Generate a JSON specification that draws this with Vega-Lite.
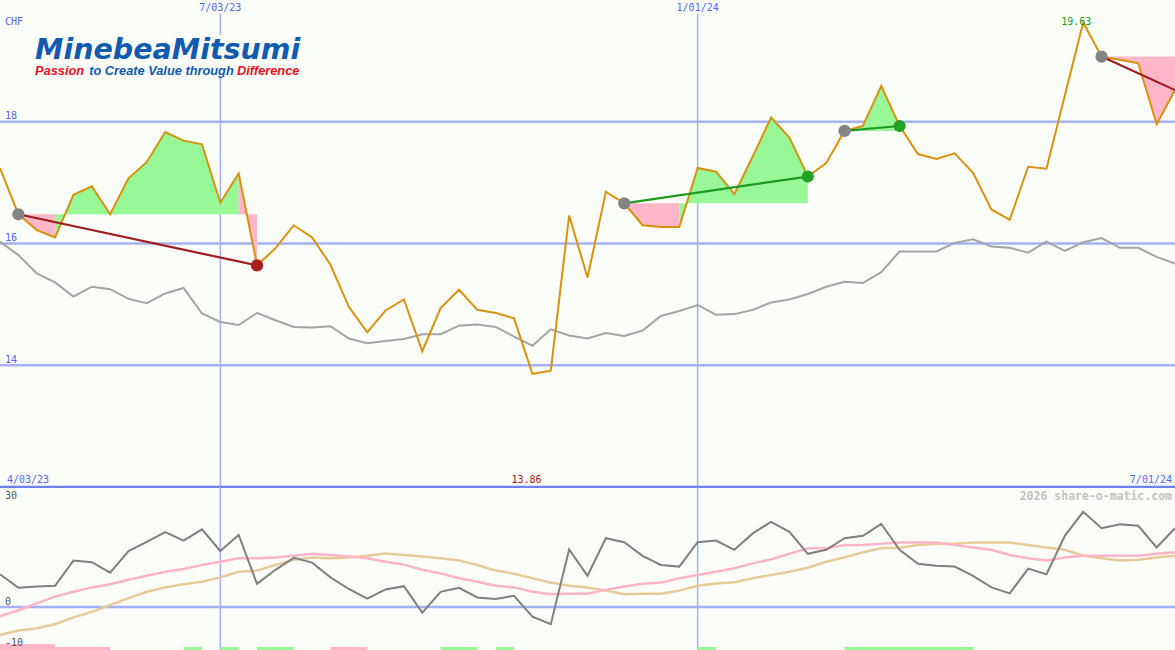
{
  "$schema": "https://vega.github.io/schema/vega-lite/v6.json",
  "background": "#fbfdf9",
  "padding": 0,
  "spacing": 0,
  "config": {"view": {"stroke": null}, "axis": {"disable": true}, "legend": {"disable": true}, "concat": {"spacing": 0}},
  "resolve": {"scale": {"x": "independent", "y": "independent", "color": "independent"}},
  "datasets": {
    "weekly": [
      {"date":"2023-04-10","price":17.24,"ref":16.03,"osc":8.2,"ma1":-2.3,"ma2":-7.0},
      {"date":"2023-04-17","price":16.48,"ref":15.81,"osc":4.8,"ma1":-0.8,"ma2":-5.9},
      {"date":"2023-04-24","price":16.22,"ref":15.51,"osc":5.1,"ma1":0.9,"ma2":-5.3},
      {"date":"2023-05-01","price":16.10,"ref":15.36,"osc":5.3,"ma1":2.6,"ma2":-4.3},
      {"date":"2023-05-08","price":16.80,"ref":15.13,"osc":11.6,"ma1":3.8,"ma2":-2.6},
      {"date":"2023-05-15","price":16.94,"ref":15.29,"osc":11.2,"ma1":4.9,"ma2":-1.2},
      {"date":"2023-05-22","price":16.48,"ref":15.25,"osc":8.6,"ma1":5.7,"ma2":0.5},
      {"date":"2023-05-29","price":17.07,"ref":15.09,"osc":14.0,"ma1":6.8,"ma2":2.2},
      {"date":"2023-06-05","price":17.34,"ref":15.02,"osc":16.3,"ma1":7.8,"ma2":3.8},
      {"date":"2023-06-12","price":17.83,"ref":15.18,"osc":18.7,"ma1":8.8,"ma2":4.9},
      {"date":"2023-06-19","price":17.69,"ref":15.27,"osc":16.6,"ma1":9.5,"ma2":5.7},
      {"date":"2023-06-26","price":17.63,"ref":14.85,"osc":19.4,"ma1":10.5,"ma2":6.3},
      {"date":"2023-07-03","price":16.67,"ref":14.71,"osc":14.0,"ma1":11.3,"ma2":7.4},
      {"date":"2023-07-10","price":17.15,"ref":14.66,"osc":18.0,"ma1":12.2,"ma2":8.8},
      {"date":"2023-07-17","price":15.64,"ref":14.86,"osc":5.8,"ma1":12.2,"ma2":9.1},
      {"date":"2023-07-24","price":15.92,"ref":14.74,"osc":9.3,"ma1":12.4,"ma2":10.5},
      {"date":"2023-07-31","price":16.30,"ref":14.63,"osc":12.3,"ma1":12.8,"ma2":11.8},
      {"date":"2023-08-07","price":16.10,"ref":14.62,"osc":11.1,"ma1":13.3,"ma2":12.4},
      {"date":"2023-08-14","price":15.65,"ref":14.64,"osc":7.4,"ma1":13.0,"ma2":12.2},
      {"date":"2023-08-21","price":14.96,"ref":14.44,"osc":4.5,"ma1":12.6,"ma2":12.4},
      {"date":"2023-08-28","price":14.54,"ref":14.36,"osc":2.1,"ma1":12.2,"ma2":12.8},
      {"date":"2023-09-04","price":14.90,"ref":14.40,"osc":4.4,"ma1":11.3,"ma2":13.4},
      {"date":"2023-09-11","price":15.08,"ref":14.43,"osc":5.2,"ma1":10.6,"ma2":13.0},
      {"date":"2023-09-18","price":14.23,"ref":14.51,"osc":-1.4,"ma1":9.3,"ma2":12.6},
      {"date":"2023-09-25","price":14.94,"ref":14.51,"osc":3.8,"ma1":8.4,"ma2":12.2},
      {"date":"2023-10-02","price":15.24,"ref":14.65,"osc":4.8,"ma1":7.2,"ma2":11.6},
      {"date":"2023-10-09","price":14.91,"ref":14.67,"osc":2.4,"ma1":6.3,"ma2":10.5},
      {"date":"2023-10-16","price":14.86,"ref":14.63,"osc":2.0,"ma1":5.3,"ma2":9.1},
      {"date":"2023-10-23","price":14.77,"ref":14.47,"osc":2.8,"ma1":4.9,"ma2":8.3},
      {"date":"2023-10-30","price":13.86,"ref":14.32,"osc":-2.4,"ma1":3.8,"ma2":7.2},
      {"date":"2023-11-06","price":13.91,"ref":14.59,"osc":-4.3,"ma1":3.2,"ma2":6.1},
      {"date":"2023-11-13","price":16.46,"ref":14.49,"osc":14.4,"ma1":3.3,"ma2":5.3},
      {"date":"2023-11-20","price":15.44,"ref":14.44,"osc":7.8,"ma1":3.3,"ma2":4.9},
      {"date":"2023-11-27","price":16.85,"ref":14.53,"osc":17.2,"ma1":4.3,"ma2":4.1},
      {"date":"2023-12-04","price":16.66,"ref":14.48,"osc":16.2,"ma1":5.1,"ma2":3.2},
      {"date":"2023-12-11","price":16.30,"ref":14.57,"osc":12.8,"ma1":5.8,"ma2":3.3},
      {"date":"2023-12-18","price":16.27,"ref":14.81,"osc":10.5,"ma1":6.1,"ma2":3.3},
      {"date":"2023-12-25","price":16.27,"ref":14.89,"osc":10.1,"ma1":7.2,"ma2":4.1},
      {"date":"2024-01-01","price":17.24,"ref":14.99,"osc":16.2,"ma1":8.0,"ma2":5.3},
      {"date":"2024-01-08","price":17.18,"ref":14.83,"osc":16.6,"ma1":8.8,"ma2":5.9},
      {"date":"2024-01-15","price":16.81,"ref":14.84,"osc":14.3,"ma1":9.7,"ma2":6.2},
      {"date":"2024-01-22","price":17.43,"ref":14.91,"osc":18.4,"ma1":10.9,"ma2":7.2},
      {"date":"2024-01-29","price":18.07,"ref":15.03,"osc":21.3,"ma1":11.9,"ma2":8.0},
      {"date":"2024-02-05","price":17.74,"ref":15.08,"osc":18.8,"ma1":13.3,"ma2":8.8},
      {"date":"2024-02-12","price":17.10,"ref":15.17,"osc":13.3,"ma1":14.7,"ma2":9.8},
      {"date":"2024-02-19","price":17.32,"ref":15.29,"osc":14.3,"ma1":14.7,"ma2":11.3},
      {"date":"2024-02-26","price":17.85,"ref":15.37,"osc":17.2,"ma1":15.5,"ma2":12.4},
      {"date":"2024-03-04","price":17.93,"ref":15.35,"osc":17.8,"ma1":15.5,"ma2":13.7},
      {"date":"2024-03-11","price":18.59,"ref":15.53,"osc":20.8,"ma1":15.8,"ma2":14.7},
      {"date":"2024-03-18","price":17.93,"ref":15.87,"osc":14.3,"ma1":16.1,"ma2":14.8},
      {"date":"2024-03-25","price":17.47,"ref":15.87,"osc":10.8,"ma1":16.1,"ma2":15.5},
      {"date":"2024-04-01","price":17.39,"ref":15.87,"osc":10.3,"ma1":16.1,"ma2":15.8},
      {"date":"2024-04-08","price":17.48,"ref":16.01,"osc":10.1,"ma1":15.5,"ma2":15.8},
      {"date":"2024-04-15","price":17.16,"ref":16.07,"osc":7.8,"ma1":14.9,"ma2":16.1},
      {"date":"2024-04-22","price":16.56,"ref":15.95,"osc":4.9,"ma1":14.3,"ma2":16.1},
      {"date":"2024-04-29","price":16.39,"ref":15.93,"osc":3.4,"ma1":13.0,"ma2":16.1},
      {"date":"2024-05-06","price":17.26,"ref":15.85,"osc":9.6,"ma1":12.2,"ma2":15.5},
      {"date":"2024-05-13","price":17.23,"ref":16.03,"osc":8.2,"ma1":11.6,"ma2":14.9},
      {"date":"2024-05-20","price":18.43,"ref":15.88,"osc":17.8,"ma1":12.4,"ma2":14.3},
      {"date":"2024-05-27","price":19.63,"ref":16.02,"osc":23.8,"ma1":12.8,"ma2":12.8},
      {"date":"2024-06-03","price":19.07,"ref":16.09,"osc":19.7,"ma1":12.8,"ma2":12.2},
      {"date":"2024-06-10","price":19.02,"ref":15.93,"osc":20.7,"ma1":12.8,"ma2":11.6},
      {"date":"2024-06-17","price":18.96,"ref":15.93,"osc":20.3,"ma1":12.8,"ma2":11.8},
      {"date":"2024-06-24","price":17.96,"ref":15.78,"osc":14.9,"ma1":13.3,"ma2":12.4},
      {"date":"2024-07-01","price":18.52,"ref":15.67,"osc":19.7,"ma1":13.7,"ma2":12.8}
    ],
    "fills": [
      {"date":"2023-04-17","price":16.48,"base":16.48,"grp":"a","sign":"down"},
      {"date":"2023-04-24","price":16.22,"base":16.48,"grp":"a","sign":"down"},
      {"date":"2023-05-01","price":16.10,"base":16.48,"grp":"a","sign":"down"},
      {"date":"2023-05-01","price":16.10,"base":16.48,"grp":"b","sign":"up"},
      {"date":"2023-05-08","price":16.80,"base":16.48,"grp":"b","sign":"up"},
      {"date":"2023-05-15","price":16.94,"base":16.48,"grp":"b","sign":"up"},
      {"date":"2023-05-22","price":16.48,"base":16.48,"grp":"b","sign":"up"},
      {"date":"2023-05-29","price":17.07,"base":16.48,"grp":"b","sign":"up"},
      {"date":"2023-06-05","price":17.34,"base":16.48,"grp":"b","sign":"up"},
      {"date":"2023-06-12","price":17.83,"base":16.48,"grp":"b","sign":"up"},
      {"date":"2023-06-19","price":17.69,"base":16.48,"grp":"b","sign":"up"},
      {"date":"2023-06-26","price":17.63,"base":16.48,"grp":"b","sign":"up"},
      {"date":"2023-07-03","price":16.67,"base":16.48,"grp":"b","sign":"up"},
      {"date":"2023-07-10","price":17.15,"base":16.48,"grp":"b","sign":"up"},
      {"date":"2023-07-10","price":17.15,"base":16.48,"grp":"c","sign":"down"},
      {"date":"2023-07-17","price":15.64,"base":16.48,"grp":"c","sign":"down"},
      {"date":"2023-12-04","price":16.66,"base":16.66,"grp":"d","sign":"down"},
      {"date":"2023-12-11","price":16.30,"base":16.66,"grp":"d","sign":"down"},
      {"date":"2023-12-18","price":16.27,"base":16.66,"grp":"d","sign":"down"},
      {"date":"2023-12-25","price":16.27,"base":16.66,"grp":"d","sign":"down"},
      {"date":"2023-12-25","price":16.27,"base":16.66,"grp":"e","sign":"up"},
      {"date":"2024-01-01","price":17.24,"base":16.66,"grp":"e","sign":"up"},
      {"date":"2024-01-08","price":17.18,"base":16.66,"grp":"e","sign":"up"},
      {"date":"2024-01-15","price":16.81,"base":16.66,"grp":"e","sign":"up"},
      {"date":"2024-01-22","price":17.43,"base":16.66,"grp":"e","sign":"up"},
      {"date":"2024-01-29","price":18.07,"base":16.66,"grp":"e","sign":"up"},
      {"date":"2024-02-05","price":17.74,"base":16.66,"grp":"e","sign":"up"},
      {"date":"2024-02-12","price":17.10,"base":16.66,"grp":"e","sign":"up"},
      {"date":"2024-02-26","price":17.85,"base":17.85,"grp":"f","sign":"up"},
      {"date":"2024-03-04","price":17.93,"base":17.85,"grp":"f","sign":"up"},
      {"date":"2024-03-11","price":18.59,"base":17.85,"grp":"f","sign":"up"},
      {"date":"2024-03-18","price":17.93,"base":17.85,"grp":"f","sign":"up"},
      {"date":"2024-06-03","price":19.07,"base":19.07,"grp":"g","sign":"down"},
      {"date":"2024-06-10","price":19.02,"base":19.07,"grp":"g","sign":"down"},
      {"date":"2024-06-17","price":18.96,"base":19.07,"grp":"g","sign":"down"},
      {"date":"2024-06-24","price":17.96,"base":19.07,"grp":"g","sign":"down"},
      {"date":"2024-07-01","price":18.52,"base":19.07,"grp":"g","sign":"down"}
    ],
    "trends": [
      {"date":"2023-04-17","value":16.48,"seg":1,"sign":"down"},
      {"date":"2023-07-17","value":15.64,"seg":1,"sign":"down"},
      {"date":"2023-12-04","value":16.66,"seg":2,"sign":"up"},
      {"date":"2024-02-12","value":17.10,"seg":2,"sign":"up"},
      {"date":"2024-02-26","value":17.85,"seg":3,"sign":"up"},
      {"date":"2024-03-18","value":17.93,"seg":3,"sign":"up"},
      {"date":"2024-06-03","value":19.07,"seg":4,"sign":"down"},
      {"date":"2024-07-01","value":18.52,"seg":4,"sign":"down"}
    ],
    "dots": [
      {"date":"2023-04-17","value":16.48,"kind":"start"},
      {"date":"2023-07-17","value":15.64,"kind":"down"},
      {"date":"2023-12-04","value":16.66,"kind":"start"},
      {"date":"2024-02-12","value":17.10,"kind":"up"},
      {"date":"2024-02-26","value":17.85,"kind":"start"},
      {"date":"2024-03-18","value":17.93,"kind":"up"},
      {"date":"2024-06-03","value":19.07,"kind":"start"}
    ],
    "bars": [
      {"start":"2023-04-10","end":"2023-05-01","top":-9.25,"sign":"down"},
      {"start":"2023-05-01","end":"2023-05-22","top":-10.0,"sign":"down"},
      {"start":"2023-06-19","end":"2023-06-26","top":-10.0,"sign":"up"},
      {"start":"2023-07-03","end":"2023-07-10","top":-10.0,"sign":"up"},
      {"start":"2023-07-17","end":"2023-07-31","top":-10.0,"sign":"up"},
      {"start":"2023-08-14","end":"2023-08-28","top":-10.0,"sign":"down"},
      {"start":"2023-09-25","end":"2023-10-09","top":-10.0,"sign":"up"},
      {"start":"2023-10-16","end":"2023-10-23","top":-10.0,"sign":"up"},
      {"start":"2024-01-01","end":"2024-01-08","top":-10.0,"sign":"up"},
      {"start":"2024-02-26","end":"2024-04-15","top":-10.0,"sign":"up"}
    ],
    "vlines": [{"date":"2023-07-03"},{"date":"2024-01-01"}],
    "gridTop": [{"level":14},{"level":16},{"level":18}],
    "logoBox": [{"start":"2023-04-21","end":"2023-08-08","low":18.72,"high":19.43}],
    "notes": [
      {"date":"2023-04-10","value":19.59,"text":"CHF","role":"axisTop"},
      {"date":"2023-04-10","value":18.04,"text":"18","role":"axisTop"},
      {"date":"2023-04-10","value":16.04,"text":"16","role":"axisTop"},
      {"date":"2023-04-10","value":14.04,"text":"14","role":"axisTop"},
      {"date":"2023-07-03","value":19.82,"text":"7/03/23","role":"dateTop"},
      {"date":"2024-01-01","value":19.82,"text":"1/01/24","role":"dateTop"},
      {"date":"2023-04-10","value":12.07,"text":"4/03/23","role":"dateLeft"},
      {"date":"2024-07-01","value":12.07,"text":"7/01/24","role":"dateRight"},
      {"date":"2023-10-30","value":12.07,"text":"13.86","role":"min"},
      {"date":"2024-05-27","value":19.59,"text":"19.63","role":"max"},
      {"date":"2023-04-23","value":19.03,"text":"MinebeaMitsumi","role":"logo"},
      {"date":"2023-04-23","value":18.76,"text":"Passion","role":"tagRed"},
      {"date":"2023-05-14","value":18.76,"text":"to Create Value through","role":"tagBlue"},
      {"date":"2023-07-09","value":18.76,"text":"Difference","role":"tagRed"},
      {"date":"2023-04-10","value":26.9,"text":"30","role":"axisLow"},
      {"date":"2023-04-10","value":0.5,"text":"0","role":"axisLow"},
      {"date":"2023-04-10","value":-9.75,"text":"-10","role":"axisLow"},
      {"date":"2024-07-01","value":26.75,"text":"2026 share-o-matic.com","role":"credit"}
    ]
  },
  "vconcat": [
    {
      "width": 1175,
      "height": 487,
      "layer": [
        {"data": {"name": "gridTop"}, "mark": {"type": "rule", "color": "#a4b2f2", "strokeWidth": 2.5, "clip": true},
         "encoding": {"y": {"field": "level", "type": "quantitative", "scale": {"domain": [12, 20], "nice": false, "zero": false}}}},
        {"data": {"name": "vlines"}, "mark": {"type": "rule", "color": "#a4b2f2", "strokeWidth": 1.5, "clip": true},
         "encoding": {"x": {"field": "date", "type": "temporal", "scale": {"type": "utc", "domain": [1681084800000, 1719792000000], "nice": false}},
                      "y": {"datum": 12, "type": "quantitative", "scale": {"domain": [12, 20], "nice": false, "zero": false}}, "y2": {"datum": 19.78}}},
        {"data": {"name": "logoBox"}, "mark": {"type": "rect", "color": "#fbfdf9", "opacity": 1},
         "encoding": {"x": {"field": "start", "type": "temporal", "scale": {"type": "utc", "domain": [1681084800000, 1719792000000], "nice": false}},
                      "x2": {"field": "end"},
                      "y": {"field": "low", "type": "quantitative", "scale": {"domain": [12, 20], "nice": false, "zero": false}},
                      "y2": {"field": "high"}}},
        {"data": {"values": [{"level": 12}]}, "mark": {"type": "rule", "color": "#7080f0", "strokeWidth": 2.5, "clip": true},
         "encoding": {"y": {"field": "level", "type": "quantitative", "scale": {"domain": [12, 20], "nice": false, "zero": false}}}},
        {"data": {"name": "fills"}, "mark": {"type": "area", "opacity": 1, "clip": true},
         "encoding": {"x": {"field": "date", "type": "temporal", "scale": {"type": "utc", "domain": [1681084800000, 1719792000000], "nice": false}},
                      "y": {"field": "price", "type": "quantitative", "scale": {"domain": [12, 20], "nice": false, "zero": false}},
                      "y2": {"field": "base"},
                      "detail": {"field": "grp", "type": "nominal"},
                      "fill": {"field": "sign", "type": "nominal", "scale": {"domain": ["up", "down"], "range": ["#98f898", "#ffb6c8"]}}}},
        {"data": {"name": "weekly"}, "mark": {"type": "line", "color": "#a4a4a4", "strokeWidth": 2, "clip": true},
         "encoding": {"x": {"field": "date", "type": "temporal", "scale": {"type": "utc", "domain": [1681084800000, 1719792000000], "nice": false}},
                      "y": {"field": "ref", "type": "quantitative", "scale": {"domain": [12, 20], "nice": false, "zero": false}}}},
        {"data": {"name": "weekly"}, "mark": {"type": "line", "color": "#d9920c", "strokeWidth": 2, "clip": true},
         "encoding": {"x": {"field": "date", "type": "temporal", "scale": {"type": "utc", "domain": [1681084800000, 1719792000000], "nice": false}},
                      "y": {"field": "price", "type": "quantitative", "scale": {"domain": [12, 20], "nice": false, "zero": false}}}},
        {"data": {"name": "trends"}, "mark": {"type": "line", "strokeWidth": 2.2, "clip": true},
         "encoding": {"x": {"field": "date", "type": "temporal", "scale": {"type": "utc", "domain": [1681084800000, 1719792000000], "nice": false}},
                      "y": {"field": "value", "type": "quantitative", "scale": {"domain": [12, 20], "nice": false, "zero": false}},
                      "detail": {"field": "seg", "type": "nominal"},
                      "stroke": {"field": "sign", "type": "nominal", "scale": {"domain": ["up", "down"], "range": ["#1e9a1e", "#a01c1c"]}}}},
        {"data": {"name": "dots"}, "mark": {"type": "circle", "size": 150, "opacity": 1},
         "encoding": {"x": {"field": "date", "type": "temporal", "scale": {"type": "utc", "domain": [1681084800000, 1719792000000], "nice": false}},
                      "y": {"field": "value", "type": "quantitative", "scale": {"domain": [12, 20], "nice": false, "zero": false}},
                      "color": {"field": "kind", "type": "nominal", "scale": {"domain": ["start", "up", "down"], "range": ["#848484", "#24a024", "#a82020"]}}}},
        {"data": {"name": "notes"}, "transform": [{"filter": "datum.role === 'axisTop'"}],
         "mark": {"type": "text", "align": "left", "baseline": "alphabetic", "dx": 5, "font": "DejaVu Sans Mono", "fontSize": 10, "color": "#5565f2"},
         "encoding": {"x": {"field": "date", "type": "temporal", "scale": {"type": "utc", "domain": [1681084800000, 1719792000000], "nice": false}},
                      "y": {"field": "value", "type": "quantitative", "scale": {"domain": [12, 20], "nice": false, "zero": false}},
                      "text": {"field": "text"}}},
        {"data": {"name": "notes"}, "transform": [{"filter": "datum.role === 'dateTop'"}],
         "mark": {"type": "text", "align": "center", "baseline": "alphabetic", "font": "DejaVu Sans Mono", "fontSize": 10, "color": "#5565f2"},
         "encoding": {"x": {"field": "date", "type": "temporal", "scale": {"type": "utc", "domain": [1681084800000, 1719792000000], "nice": false}},
                      "y": {"field": "value", "type": "quantitative", "scale": {"domain": [12, 20], "nice": false, "zero": false}},
                      "text": {"field": "text"}}},
        {"data": {"name": "notes"}, "transform": [{"filter": "datum.role === 'dateLeft'"}],
         "mark": {"type": "text", "align": "left", "baseline": "alphabetic", "dx": 7, "font": "DejaVu Sans Mono", "fontSize": 10, "color": "#5565f2"},
         "encoding": {"x": {"field": "date", "type": "temporal", "scale": {"type": "utc", "domain": [1681084800000, 1719792000000], "nice": false}},
                      "y": {"field": "value", "type": "quantitative", "scale": {"domain": [12, 20], "nice": false, "zero": false}},
                      "text": {"field": "text"}}},
        {"data": {"name": "notes"}, "transform": [{"filter": "datum.role === 'dateRight'"}],
         "mark": {"type": "text", "align": "right", "baseline": "alphabetic", "dx": -3, "font": "DejaVu Sans Mono", "fontSize": 10, "color": "#5565f2"},
         "encoding": {"x": {"field": "date", "type": "temporal", "scale": {"type": "utc", "domain": [1681084800000, 1719792000000], "nice": false}},
                      "y": {"field": "value", "type": "quantitative", "scale": {"domain": [12, 20], "nice": false, "zero": false}},
                      "text": {"field": "text"}}},
        {"data": {"name": "notes"}, "transform": [{"filter": "datum.role === 'min'"}],
         "mark": {"type": "text", "align": "center", "baseline": "alphabetic", "dx": -6, "font": "DejaVu Sans Mono", "fontSize": 10, "color": "#a01818"},
         "encoding": {"x": {"field": "date", "type": "temporal", "scale": {"type": "utc", "domain": [1681084800000, 1719792000000], "nice": false}},
                      "y": {"field": "value", "type": "quantitative", "scale": {"domain": [12, 20], "nice": false, "zero": false}},
                      "text": {"field": "text"}}},
        {"data": {"name": "notes"}, "transform": [{"filter": "datum.role === 'max'"}],
         "mark": {"type": "text", "align": "center", "baseline": "alphabetic", "dx": -7, "font": "DejaVu Sans Mono", "fontSize": 10, "color": "#1e9e1e"},
         "encoding": {"x": {"field": "date", "type": "temporal", "scale": {"type": "utc", "domain": [1681084800000, 1719792000000], "nice": false}},
                      "y": {"field": "value", "type": "quantitative", "scale": {"domain": [12, 20], "nice": false, "zero": false}},
                      "text": {"field": "text"}}},
        {"data": {"name": "notes"}, "transform": [{"filter": "datum.role === 'logo'"}],
         "mark": {"type": "text", "align": "left", "baseline": "alphabetic", "dx": 1, "font": "DejaVu Sans", "fontSize": 28.5, "fontWeight": "bold", "fontStyle": "italic", "color": "#105aaf"},
         "encoding": {"x": {"field": "date", "type": "temporal", "scale": {"type": "utc", "domain": [1681084800000, 1719792000000], "nice": false}},
                      "y": {"field": "value", "type": "quantitative", "scale": {"domain": [12, 20], "nice": false, "zero": false}},
                      "text": {"field": "text"}}},
        {"data": {"name": "notes"}, "transform": [{"filter": "datum.role === 'tagRed'"}],
         "mark": {"type": "text", "align": "left", "baseline": "alphabetic", "dx": 1, "font": "Liberation Sans", "fontSize": 12.8, "fontWeight": "bold", "fontStyle": "italic", "color": "#e2141e"},
         "encoding": {"x": {"field": "date", "type": "temporal", "scale": {"type": "utc", "domain": [1681084800000, 1719792000000], "nice": false}},
                      "y": {"field": "value", "type": "quantitative", "scale": {"domain": [12, 20], "nice": false, "zero": false}},
                      "text": {"field": "text"}}},
        {"data": {"name": "notes"}, "transform": [{"filter": "datum.role === 'tagBlue'"}],
         "mark": {"type": "text", "align": "left", "baseline": "alphabetic", "font": "Liberation Sans", "fontSize": 12.8, "fontWeight": "bold", "fontStyle": "italic", "color": "#105aaf"},
         "encoding": {"x": {"field": "date", "type": "temporal", "scale": {"type": "utc", "domain": [1681084800000, 1719792000000], "nice": false}},
                      "y": {"field": "value", "type": "quantitative", "scale": {"domain": [12, 20], "nice": false, "zero": false}},
                      "text": {"field": "text"}}}
      ]
    },
    {
      "width": 1175,
      "height": 163,
      "layer": [
        {"data": {"values": [{"level": 0}]}, "mark": {"type": "rule", "color": "#a4b2f2", "strokeWidth": 2.5, "clip": true},
         "encoding": {"y": {"field": "level", "type": "quantitative", "scale": {"domain": [-10.75, 30], "nice": false, "zero": false}}}},
        {"data": {"values": [{"level": 30}]}, "mark": {"type": "rule", "color": "#7080f0", "strokeWidth": 2, "clip": true},
         "encoding": {"y": {"field": "level", "type": "quantitative", "scale": {"domain": [-10.75, 30], "nice": false, "zero": false}}}},
        {"data": {"name": "vlines"}, "mark": {"type": "rule", "color": "#a4b2f2", "strokeWidth": 1.5, "clip": true},
         "encoding": {"x": {"field": "date", "type": "temporal", "scale": {"type": "utc", "domain": [1681084800000, 1719792000000], "nice": false}}}},
        {"data": {"name": "bars"}, "mark": {"type": "rect", "clip": true},
         "encoding": {"x": {"field": "start", "type": "temporal", "scale": {"type": "utc", "domain": [1681084800000, 1719792000000], "nice": false}},
                      "x2": {"field": "end"},
                      "y": {"field": "top", "type": "quantitative", "scale": {"domain": [-10.75, 30], "nice": false, "zero": false}},
                      "y2": {"datum": -10.75},
                      "color": {"field": "sign", "type": "nominal", "scale": {"domain": ["up", "down"], "range": ["#98f898", "#ffb6c8"]}}}},
        {"data": {"name": "weekly"}, "mark": {"type": "line", "color": "#e6cc9a", "strokeWidth": 2.5, "clip": true},
         "encoding": {"x": {"field": "date", "type": "temporal", "scale": {"type": "utc", "domain": [1681084800000, 1719792000000], "nice": false}},
                      "y": {"field": "ma2", "type": "quantitative", "scale": {"domain": [-10.75, 30], "nice": false, "zero": false}}}},
        {"data": {"name": "weekly"}, "mark": {"type": "line", "color": "#ffb4c8", "strokeWidth": 2.5, "clip": true},
         "encoding": {"x": {"field": "date", "type": "temporal", "scale": {"type": "utc", "domain": [1681084800000, 1719792000000], "nice": false}},
                      "y": {"field": "ma1", "type": "quantitative", "scale": {"domain": [-10.75, 30], "nice": false, "zero": false}}}},
        {"data": {"name": "weekly"}, "mark": {"type": "line", "color": "#808080", "strokeWidth": 2, "clip": true},
         "encoding": {"x": {"field": "date", "type": "temporal", "scale": {"type": "utc", "domain": [1681084800000, 1719792000000], "nice": false}},
                      "y": {"field": "osc", "type": "quantitative", "scale": {"domain": [-10.75, 30], "nice": false, "zero": false}}}},
        {"data": {"name": "notes"}, "transform": [{"filter": "datum.role === 'axisLow'"}],
         "mark": {"type": "text", "align": "left", "baseline": "alphabetic", "dx": 5, "font": "DejaVu Sans Mono", "fontSize": 10, "color": "#555555"},
         "encoding": {"x": {"field": "date", "type": "temporal", "scale": {"type": "utc", "domain": [1681084800000, 1719792000000], "nice": false}},
                      "y": {"field": "value", "type": "quantitative", "scale": {"domain": [-10.75, 30], "nice": false, "zero": false}},
                      "text": {"field": "text"}}},
        {"data": {"name": "notes"}, "transform": [{"filter": "datum.role === 'credit'"}],
         "mark": {"type": "text", "align": "right", "baseline": "alphabetic", "dx": -3, "font": "DejaVu Sans Mono", "fontSize": 11.5, "fontWeight": "bold", "color": "#c4c4c4"},
         "encoding": {"x": {"field": "date", "type": "temporal", "scale": {"type": "utc", "domain": [1681084800000, 1719792000000], "nice": false}},
                      "y": {"field": "value", "type": "quantitative", "scale": {"domain": [-10.75, 30], "nice": false, "zero": false}},
                      "text": {"field": "text"}}}
      ]
    }
  ]
}
